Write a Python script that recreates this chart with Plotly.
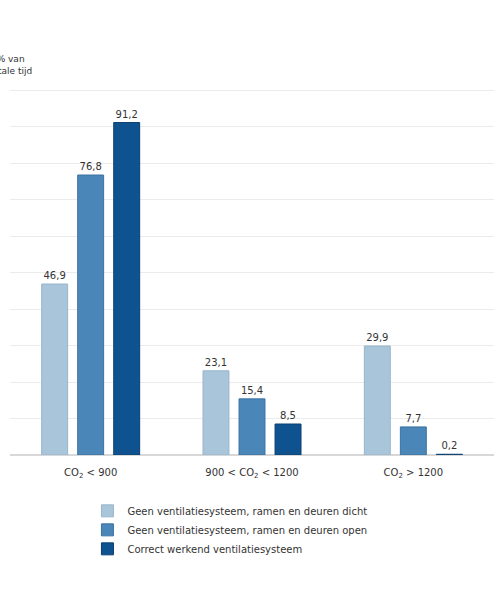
import plotly.graph_objects as go

categories = ["CO<sub>2</sub> &lt; 900", "900 &lt; CO<sub>2</sub> &lt; 1200", "CO<sub>2</sub> &gt; 1200"]
series_names = [
    "Geen ventilatiesysteem, ramen en deuren dicht",
    "Geen ventilatiesysteem, ramen en deuren open",
    "Correct werkend ventilatiesysteem",
]
dicht = [46.9, 23.1, 29.9]
open_ = [76.8, 15.4, 7.7]
correct = [91.2, 8.5, 0.2]
y_title = "% van<br>totale tijd"

colors = ["#a9c5d9", "#4a86b7", "#0f5290"]
lines = ["#97b5cb", "#3a73a3", "#0a3f73"]
FONT = "DejaVu Sans"

fig = go.Figure()
for name, vals, c, lc in zip(series_names, [dicht, open_, correct], colors, lines):
    fig.add_trace(go.Bar(
        x=categories, y=vals, name=name,
        marker=dict(color=c, line=dict(color=lc, width=1)),
        text=[f"{v:.1f}".replace(".", ",") for v in vals],
        textposition="outside", cliponaxis=False,
        textfont=dict(size=10, color="#333333", family=FONT),
    ))

fig.update_layout(
    width=500, height=600,
    margin=dict(l=10, r=6, t=89, b=145),
    paper_bgcolor="white", plot_bgcolor="white",
    barmode="group", bargap=0.33, bargroupgap=0.28,
    font=dict(family=FONT, size=10, color="#333333"),
    showlegend=True,
    legend=dict(x=0.16, y=-0.113, xanchor="left", yanchor="top",
                font=dict(size=10, color="#333333", family=FONT), tracegroupgap=0,
                itemwidth=30),
    xaxis=dict(showgrid=False, showline=False, ticks="", ticklabelstandoff=10,
               tickfont=dict(size=10, color="#333333", family=FONT)),
    yaxis=dict(range=[0, 100.4], dtick=10, showgrid=True, gridcolor="#ebebeb",
               gridwidth=1, zeroline=True, zerolinecolor="#d8d8d8", zerolinewidth=1.5,
               showticklabels=False, ticks=""),
    annotations=[dict(text=y_title, xref="paper", yref="paper", x=0.0, y=1.101,
                      xanchor="center", yanchor="top", align="center", showarrow=False,
                      font=dict(size=9, color="#333333", family=FONT))],
)

fig.write_html("out.html")
